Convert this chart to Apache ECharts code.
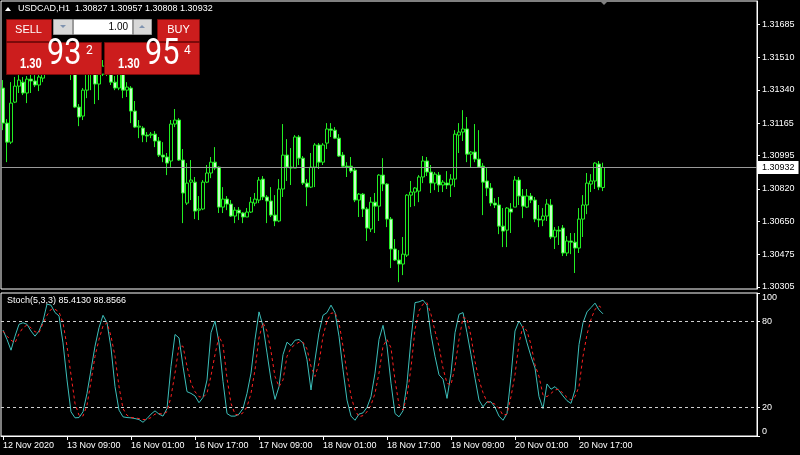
<!DOCTYPE html>
<html><head><meta charset="utf-8">
<script src="https://cdn.jsdelivr.net/npm/echarts@6/dist/echarts.min.js"></script>
<style>html,body{margin:0;padding:0;background:#000}#c{width:800px;height:455px}</style>
</head><body><div id="c"></div>
<script>
// ---------- DATA ----------
const chartTitle = 'USDCAD,H1';
const lastBarText = ['1.30827', '1.30957', '1.30808', '1.30932'];
const currentPrice = 1.30932;
const priceTicks = [1.30305, 1.30475, 1.30650, 1.30820, 1.30995, 1.31165, 1.31340, 1.31510, 1.31685];
const stochTicks = [0, 20, 80, 100];
const stochLevels = [20, 80];
const stochTitle = 'Stoch(5,3,3) 85.4130 88.8566';
const timeTickLabels = ['12 Nov 2020', '13 Nov 09:00', '16 Nov 01:00', '16 Nov 17:00', '17 Nov 09:00',
  '18 Nov 01:00', '18 Nov 17:00', '19 Nov 09:00', '20 Nov 01:00', '20 Nov 17:00'];
const lotSize = '1.00';
const sellQuote = ['1.30', '93', '2'];
const buyQuote = ['1.30', '95', '4'];

const opens = [1.31349,1.31165,1.31065,1.31275,1.31359,1.31380,1.31323,1.31396,1.31386,1.31365,
1.31401,1.31443,1.31506,1.31538,1.31496,1.31517,1.31475,1.31485,1.31443,1.31249,
1.31202,1.31338,1.31433,1.31443,1.31370,1.31422,1.31464,1.31443,1.31380,1.31349,
1.31422,1.31338,1.31349,1.31228,1.31144,1.31139,1.31102,1.31102,1.31107,1.31071,
1.30997,1.30987,1.30966,1.31160,1.31181,1.30971,1.30745,1.30855,1.30855,1.30708,
1.30714,1.30855,1.30903,1.30960,1.30934,1.30724,1.30766,1.30740,1.30677,1.30708,
1.30693,1.30672,1.30698,1.30745,1.30761,1.30871,1.30777,1.30756,1.30682,1.30651,
1.30819,1.30997,1.30934,1.30929,1.31092,1.30981,1.30850,1.30829,1.30934,1.31050,
1.30960,1.31060,1.31134,1.31128,1.31086,1.30997,1.30939,1.30939,1.30918,1.30761,
1.30792,1.30714,1.30609,1.30750,1.30729,1.30892,1.30845,1.30661,1.30504,1.30446,
1.30425,1.30472,1.30787,1.30803,1.30808,1.30882,1.30966,1.30908,1.30850,1.30892,
1.30840,1.30850,1.30840,1.30871,1.31102,1.31118,1.31134,1.31002,1.31013,1.30976,
1.30939,1.30861,1.30824,1.30745,1.30735,1.30624,1.30603,1.30714,1.30724,1.30866,
1.30782,1.30724,1.30782,1.30761,1.30661,1.30656,1.30677,1.30735,1.30567,1.30603,
1.30614,1.30483,1.30546,1.30540,1.30509,1.30661,1.30735,1.30845,1.30861,1.30950,
1.30827];
const closes = [1.31165,1.31065,1.31270,1.31359,1.31391,1.31323,1.31396,1.31386,1.31365,1.31407,
1.31443,1.31506,1.31538,1.31496,1.31517,1.31475,1.31485,1.31433,1.31249,1.31197,
1.31338,1.31433,1.31443,1.31370,1.31422,1.31464,1.31443,1.31380,1.31349,1.31422,
1.31338,1.31354,1.31228,1.31144,1.31149,1.31102,1.31097,1.31107,1.31071,1.30997,
1.30987,1.30955,1.31160,1.31181,1.30971,1.30798,1.30850,1.30866,1.30703,1.30714,
1.30855,1.30903,1.30960,1.30929,1.30724,1.30766,1.30740,1.30677,1.30708,1.30693,
1.30672,1.30698,1.30750,1.30766,1.30866,1.30777,1.30756,1.30682,1.30651,1.30819,
1.30997,1.30934,1.30929,1.31092,1.30981,1.30850,1.30829,1.30934,1.31050,1.30960,
1.31050,1.31134,1.31128,1.31086,1.30992,1.30939,1.30934,1.30913,1.30761,1.30792,
1.30714,1.30614,1.30750,1.30729,1.30892,1.30845,1.30661,1.30504,1.30446,1.30425,
1.30477,1.30787,1.30803,1.30824,1.30882,1.30966,1.30908,1.30850,1.30897,1.30840,
1.30855,1.30840,1.30871,1.31107,1.31118,1.31134,1.31002,1.31013,1.30976,1.30934,
1.30855,1.30824,1.30745,1.30735,1.30624,1.30598,1.30719,1.30698,1.30866,1.30782,
1.30729,1.30782,1.30761,1.30661,1.30656,1.30677,1.30740,1.30567,1.30603,1.30598,
1.30483,1.30546,1.30540,1.30509,1.30661,1.30735,1.30850,1.30861,1.30955,1.30829,
1.30932];
const lows = [1.31128,1.30960,1.31055,1.31270,1.31323,1.31312,1.31270,1.31323,1.31354,1.31333,
1.31380,1.31422,1.31485,1.31475,1.31464,1.31454,1.31443,1.31391,1.31244,1.31149,
1.31181,1.31296,1.31338,1.31265,1.31286,1.31412,1.31412,1.31365,1.31338,1.31338,
1.31296,1.31302,1.31165,1.31139,1.31086,1.31065,1.31065,1.31086,1.31039,1.30987,
1.30960,1.30892,1.30934,1.31144,1.30966,1.30640,1.30735,1.30761,1.30661,1.30656,
1.30708,1.30850,1.30876,1.30918,1.30693,1.30693,1.30708,1.30672,1.30640,1.30656,
1.30640,1.30672,1.30693,1.30729,1.30745,1.30761,1.30640,1.30672,1.30624,1.30645,
1.30777,1.30861,1.30840,1.30929,1.30945,1.30840,1.30729,1.30824,1.30829,1.30924,
1.30945,1.31029,1.31092,1.31081,1.30987,1.30929,1.30882,1.30903,1.30750,1.30672,
1.30672,1.30546,1.30593,1.30588,1.30651,1.30808,1.30619,1.30404,1.30441,1.30330,
1.30367,1.30462,1.30724,1.30729,1.30750,1.30850,1.30887,1.30798,1.30813,1.30803,
1.30803,1.30819,1.30777,1.30829,1.31008,1.31071,1.30960,1.30934,1.30960,1.30929,
1.30682,1.30782,1.30729,1.30719,1.30582,1.30514,1.30514,1.30588,1.30724,1.30735,
1.30666,1.30719,1.30745,1.30645,1.30619,1.30624,1.30651,1.30556,1.30504,1.30525,
1.30467,1.30467,1.30477,1.30378,1.30483,1.30567,1.30687,1.30803,1.30819,1.30813,
1.30808];
const highs = [1.31391,1.31186,1.31380,1.31407,1.31417,1.31407,1.31412,1.31422,1.31417,1.31433,
1.31485,1.31522,1.31559,1.31548,1.31533,1.31527,1.31506,1.31496,1.31454,1.31265,
1.31349,1.31464,1.31485,1.31475,1.31464,1.31496,1.31506,1.31470,1.31412,1.31454,
1.31443,1.31380,1.31359,1.31281,1.31181,1.31149,1.31118,1.31118,1.31123,1.31092,
1.31065,1.31008,1.31181,1.31239,1.31191,1.31029,1.30955,1.30971,1.30882,1.30782,
1.30866,1.30945,1.30987,1.31039,1.30939,1.30829,1.30782,1.30761,1.30724,1.30724,
1.30698,1.30719,1.30777,1.30798,1.30882,1.30887,1.30787,1.30829,1.30787,1.30871,
1.31160,1.31081,1.31034,1.31102,1.31102,1.30992,1.30871,1.31008,1.31060,1.31060,
1.31060,1.31165,1.31165,1.31144,1.31107,1.31013,1.30960,1.30987,1.30929,1.30798,
1.30798,1.30724,1.30777,1.30798,1.30897,1.30981,1.30850,1.30672,1.30556,1.30498,
1.30567,1.30792,1.30861,1.30829,1.30892,1.30992,1.30987,1.30945,1.30908,1.30908,
1.30866,1.30913,1.30897,1.31128,1.31165,1.31233,1.31197,1.31018,1.31160,1.31128,
1.30955,1.30934,1.30850,1.30771,1.30777,1.30719,1.30724,1.30745,1.30887,1.30882,
1.30819,1.30819,1.30798,1.30777,1.30735,1.30719,1.30766,1.30766,1.30619,1.30624,
1.30630,1.30572,1.30588,1.30588,1.30719,1.30787,1.30903,1.30897,1.30960,1.30966,
1.30957];
const stochK = [74.1,67.5,60,69.8,78.1,79.2,78.1,73.4,69.8,73.4,
80.4,92.2,91.5,86.3,84,65.1,39.2,16.9,12.7,12.9,
16.9,29.8,46.3,62.8,75.7,84.4,79.2,61.6,34.5,18.1,
13.4,12.9,12.7,12.2,11.5,9.6,12.2,15.3,17.6,15.3,
13.9,19.2,48.7,71,68.6,48.7,31,29.8,28,23.3,
27,39.2,72.2,80.4,65.1,38.1,15.7,13.9,13.9,15.3,
19.2,29.8,44,67.5,86.8,76.9,58.1,39.2,25.6,34.5,
56.9,65.6,63.2,67,67.5,65.1,53.3,32.2,53.3,72.2,
84.4,86.3,91.5,86.3,69.8,46.3,25.1,13.9,11,15.3,
16.2,20,27.5,44,67.5,77.4,62.8,36.9,15.7,13.4,
17.6,36.9,67.5,93.3,93.8,95,91.5,71,55.7,42.8,
39.7,26.3,43.9,72.2,85.1,86.3,72.2,56.9,40.4,25.1,
20.4,23.9,23.9,20,13.9,11,15.7,41.6,73.4,80.4,
75.7,65.1,55.7,47.5,27.5,19.2,36.4,32.7,34.5,31.7,
28,24.7,22.8,32.2,64,79.2,86.8,89.8,92.9,88.2,
85.413];
const stochD = [73.4,69.8,67,65.1,71.5,75.7,77.6,75.7,72.9,72.2,
78.8,84.4,88.6,88.6,86.8,79.2,62.8,42.8,22.8,14.5,
13.9,21.6,38.1,55.7,67.5,76.9,79.2,69.8,55.7,34.5,
19.2,14.5,12.9,12.7,12.2,11.5,11.5,12.9,15.3,15.7,
15.3,16.9,27.5,44,62.8,62.8,48.7,36.9,31,27.5,
27,29.8,42.1,56.9,69.8,63.9,40.4,22.8,15.3,14.5,
16.2,20.4,29.8,46.3,68.6,79.2,73.4,59.2,41.6,34.5,
39.2,55.7,61.6,63.9,65.6,65.6,60.9,48.7,41.6,51,
69.8,80.4,85.8,86.3,79.2,62.8,44,28,18.1,13.4,
14.3,16.9,21.6,29.8,44,62.8,67.5,61.6,39.2,21.6,
18.1,28,47.5,74.5,87.5,92.2,93.3,85.1,73.4,62.8,
47.5,36.9,35.7,48.7,67.5,82.8,82.1,69.8,52.2,39.2,
30.3,23.9,23.2,22.3,19.3,14.5,15.3,27.5,42.8,65.1,
76.9,73.4,63.9,49.8,41.6,28.7,27.5,29.8,32.2,32.7,
29.8,27,25.1,27.5,34.5,55.7,71,81.6,88.6,91,
88.8566];

// ---------- BUILD ----------
const MONTHS = ['Jan','Feb','Mar','Apr','May','Jun','Jul','Aug','Sep','Oct','Nov','Dec'];
const times = [];
for (let t = Date.UTC(2020, 10, 12, 17); times.length < opens.length; t += 3600e3) {
  const d = new Date(t), wd = d.getUTCDay();
  if (wd === 0 || wd === 6) continue;
  times.push(d.getUTCDate() + ' ' + MONTHS[d.getUTCMonth()] + ' ' + String(d.getUTCHours()).padStart(2, '0') + ':00');
}
const candles = opens.map((o, i) => [o, closes[i], lows[i], highs[i]]);
const STEP = 16;
const showTick = (i) => i % STEP === 0 && i < times.length;

const FONT = 'Liberation Sans';
const WHITE = '#ffffff';
const red = '#cc1d1d', redEdge = '#7c0a0a';

function txt(x, y, text, size, opts) {
  opts = opts || {};
  return { type: 'text', x: x, y: y, z: 110, scaleX: opts.sx || 1, scaleY: 1,
    style: { x: 0, y: 0, text: text, fill: opts.fill || WHITE,
      font: (opts.weight || 'normal') + ' ' + size + 'px ' + (opts.family || FONT),
      align: opts.align || 'left', verticalAlign: opts.va || 'middle' } };
}
function box(x, y, w, h, fill, stroke) {
  return { type: 'rect', z: 105, shape: { x: x, y: y, width: w, height: h },
    style: { fill: fill, stroke: stroke || null, lineWidth: 1 } };
}

const graphic = [
  { type: 'polygon', z: 110, shape: { points: [[5, 11], [11, 11], [8, 7]] }, style: { fill: WHITE } },
  txt(18, 9, chartTitle + '  ' + lastBarText.join(' '), 9),
  { type: 'polygon', z: 110, shape: { points: [[599, 0], [609, 0], [604, 5]] }, style: { fill: '#808080' } },
  // SELL button
  box(6.5, 19.5, 45, 22, red, redEdge),
  txt(28.5, 30, 'SELL', 11, { align: 'center' }),
  // lot spinner
  box(53.5, 19.5, 19, 15, '#d8d8d8', '#9a9a9a'),
  { type: 'polygon', z: 110, shape: { points: [[60, 25], [66, 25], [63, 28]] }, style: { fill: '#7f93b0' } },
  box(73.5, 19.5, 59, 15, '#ffffff', '#9a9a9a'),
  txt(128, 27, lotSize, 10, { align: 'right', fill: '#000' }),
  box(133.5, 19.5, 18, 15, '#d8d8d8', '#9a9a9a'),
  { type: 'polygon', z: 110, shape: { points: [[139, 28], [145, 28], [142, 25]] }, style: { fill: '#7f93b0' } },
  // BUY button
  box(157.5, 19.5, 42, 22, red, redEdge),
  txt(178.5, 30, 'BUY', 11, { align: 'center' }),
  // quote boxes
  box(6.5, 42.5, 95, 32, red, redEdge),
  box(104.5, 42.5, 95, 32, red, redEdge),
  txt(20, 71, sellQuote[0], 14, { va: 'bottom', weight: 'bold', sx: 0.8 }),
  txt(47, 73, sellQuote[1], 36, { va: 'bottom', family: 'Roboto', sx: 0.85 }),
  txt(86, 51, sellQuote[2], 12, { family: 'Roboto' }),
  txt(118, 71, buyQuote[0], 14, { va: 'bottom', weight: 'bold', sx: 0.8 }),
  txt(145, 73, buyQuote[1], 36, { va: 'bottom', family: 'Roboto', sx: 0.85 }),
  txt(184, 51, buyQuote[2], 12, { family: 'Roboto' }),
  // indicator title
  txt(7, 301, stochTitle, 9)
];

const chart = echarts.init(document.getElementById('c'), null, { renderer: 'canvas' });
chart.setOption({
  backgroundColor: '#000000',
  animation: false,
  graphic: graphic,
  grid: [
    { left: 1, right: 43, top: 1, height: 288, show: true, borderColor: WHITE, borderWidth: 1, backgroundColor: 'transparent' },
    { left: 1, right: 43, top: 293, height: 143, show: true, borderColor: WHITE, borderWidth: 1, backgroundColor: 'transparent' }
  ],
  xAxis: [
    { type: 'category', gridIndex: 0, data: times, max: 188, boundaryGap: true,
      axisLine: { show: false }, axisTick: { show: false }, axisLabel: { show: false }, splitLine: { show: false } },
    { type: 'category', gridIndex: 1, data: times, max: 188, boundaryGap: true,
      axisLine: { show: true, lineStyle: { color: WHITE } },
      axisTick: { show: true, alignWithLabel: true, interval: showTick, length: 4, lineStyle: { color: WHITE } },
      axisLabel: { show: true, interval: showTick, align: 'left', margin: 5, color: WHITE, fontSize: 9, fontFamily: FONT,
        formatter: (v, i) => timeTickLabels[i / STEP] || '' },
      splitLine: { show: false } }
  ],
  yAxis: [
    { type: 'value', gridIndex: 0, position: 'right', min: 1.30294, max: 1.31806,
      axisLine: { show: true, lineStyle: { color: WHITE } },
      axisTick: { show: true, length: 3, customValues: priceTicks, lineStyle: { color: WHITE } },
      axisLabel: { show: true, customValues: priceTicks, formatter: v => v.toFixed(5), color: WHITE, fontSize: 9, fontFamily: FONT, margin: 5 },
      splitLine: { show: false } },
    { type: 'value', gridIndex: 1, position: 'right', min: 0, max: 100,
      axisLine: { show: true, lineStyle: { color: WHITE } },
      axisTick: { show: true, length: 3, customValues: stochTicks, lineStyle: { color: WHITE } },
      axisLabel: { show: true, customValues: stochTicks, color: WHITE, fontSize: 9, fontFamily: FONT, margin: 5,
        verticalAlignMaxLabel: 'top', verticalAlignMinLabel: 'bottom' },
      splitLine: { show: false } }
  ],
  series: [
    { type: 'candlestick', xAxisIndex: 0, yAxisIndex: 0, data: candles, barWidth: 3,
      itemStyle: { color: '#000000', color0: '#c8ffc8', borderColor: '#22ee22', borderColor0: '#22ee22', borderColorDoji: '#22ee22', borderWidth: 1 },
      markLine: { silent: true, symbol: ['none', 'none'], animation: false, precision: 5,
        data: [{ yAxis: currentPrice }],
        lineStyle: { color: '#9a9a9a', width: 1, type: 'solid' },
        label: { show: true, position: 'end', distance: 1, formatter: currentPrice.toFixed(5), color: '#000', backgroundColor: '#fff',
          padding: [2, 4, 2, 4], fontSize: 9, fontFamily: FONT } } },
    { type: 'line', xAxisIndex: 1, yAxisIndex: 1, data: stochK, showSymbol: false, symbol: 'none',
      lineStyle: { color: '#3cbfba', width: 1 },
      markLine: { silent: true, symbol: ['none', 'none'], animation: false,
        data: stochLevels.map(v => ({ yAxis: v })),
        lineStyle: { color: '#d0d0d0', width: 1, type: [3, 3] }, label: { show: false } } },
    { type: 'line', xAxisIndex: 1, yAxisIndex: 1, data: stochD, showSymbol: false, symbol: 'none',
      lineStyle: { color: '#ff2020', width: 1, type: [3, 3] } }
  ]
});
</script></body></html>
